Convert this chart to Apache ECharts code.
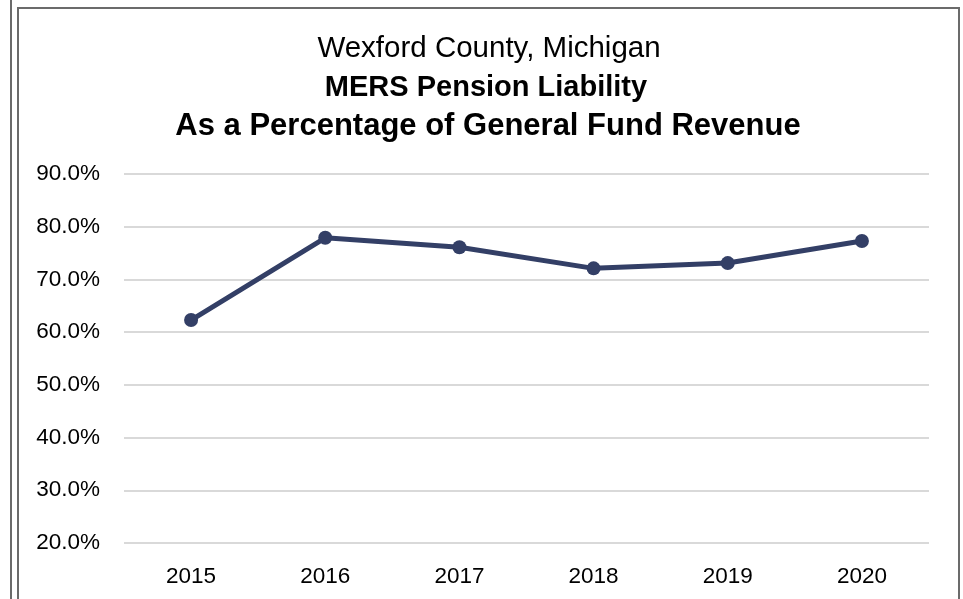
<!DOCTYPE html>
<html>
<head>
<meta charset="utf-8">
<style>
  html, body { margin: 0; padding: 0; background: #fff; }
  #chart { position: absolute; left: 0; top: 0; width: 963px; height: 599px; }
  .frame { position: absolute; border: 2px solid #6b6b6b; }
</style>
<script src="https://cdn.jsdelivr.net/npm/echarts@6/dist/echarts.min.js"></script>
</head>
<body>
<div class="frame" style="left:10px; top:-4px; width:0; height:620px; border-width:0 0 0 2px;"></div>
<div class="frame" style="left:17px; top:7px; width:939px; height:620px;"></div>
<div id="chart"></div>
<script>
const years = ['2015', '2016', '2017', '2018', '2019', '2020'];
const pct = [62.3, 77.9, 76.1, 72.1, 73.1, 77.3];

const myChart = echarts.init(document.querySelector('#chart'));

const titleFont = 'Arial, "Liberation Sans", sans-serif';

const option = {
  title: [
    {
      text: 'Wexford County, Michigan',
      left: 484,
      top: 29,
      textAlign: 'center',
      textStyle: { fontFamily: titleFont, fontSize: 29.5, fontWeight: 'normal', color: '#000' }
    },
    {
      text: 'MERS Pension Liability',
      left: 481,
      top: 68,
      textAlign: 'center',
      textStyle: { fontFamily: titleFont, fontSize: 29, fontWeight: 'bold', color: '#000' }
    },
    {
      text: 'As a Percentage of General Fund Revenue',
      left: 483,
      top: 106,
      textAlign: 'center',
      textStyle: { fontFamily: titleFont, fontSize: 31, fontWeight: 'bold', color: '#000' }
    }
  ],
  grid: {
    left: 124,
    right: 34,
    top: 174,
    bottom: 56,
    containLabel: false
  },
  xAxis: {
    type: 'category',
    data: years,
    boundaryGap: true,
    axisLine: { show: false },
    axisTick: { show: false },
    axisLabel: {
      margin: 22,
      fontFamily: titleFont,
      fontSize: 22.5,
      color: '#000'
    }
  },
  yAxis: {
    type: 'value',
    min: 20,
    max: 90,
    interval: 10,
    axisLine: { show: false },
    axisTick: { show: false },
    splitLine: { lineStyle: { color: '#d9d9d9', width: 2 } },
    axisLabel: {
      margin: 24,
      fontFamily: titleFont,
      fontSize: 22.5,
      color: '#000',
      formatter: v => v.toFixed(1) + '%'
    }
  },
  series: [
    {
      type: 'line',
      data: pct,
      symbol: 'circle',
      symbolSize: 14,
      lineStyle: { color: '#333f66', width: 5 },
      itemStyle: { color: '#333f66' },
      animation: false
    }
  ]
};

myChart.setOption(option);
</script>
</body>
</html>
